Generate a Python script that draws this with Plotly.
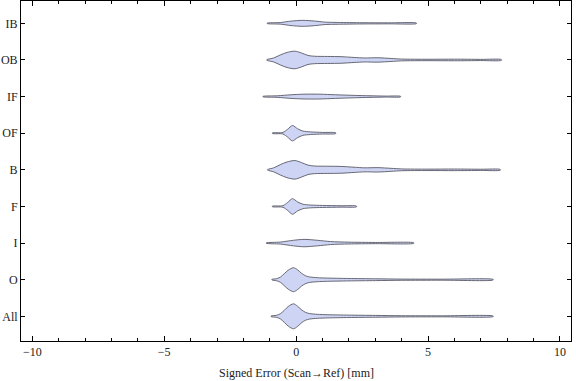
import plotly.graph_objects as go

# categories from bottom to top
categories = ["All", "O", "I", "F", "B", "OF", "IF", "OB", "IB"]

# violin profiles: x positions (mm) and half-widths (density, px-like units)
prof_x = {
    "All": [-0.95, -0.75, -0.6, -0.45, -0.3, -0.1, 0.05, 0.2, 0.35, 0.5, 0.8, 1.2, 2.0, 3.0, 4.0, 5.5, 7.47],
    "O":   [-0.92, -0.75, -0.6, -0.45, -0.3, -0.1, 0.05, 0.2, 0.35, 0.5, 0.8, 1.2, 2.0, 3.0, 4.0, 5.5, 7.47],
    "I":   [-1.13, -0.6, -0.1, 0.3, 0.8, 1.3, 2.0, 3.0, 4.46],
    "F":   [-0.9, -0.5, -0.32, -0.14, 0.05, 0.25, 0.55, 1.0, 1.7, 2.29],
    "B":   [-1.08, -0.85, -0.6, -0.35, -0.05, 0.2, 0.45, 0.7, 1.2, 1.7, 2.2, 2.6, 3.1, 3.6, 4.0, 5.0, 6.0, 7.0, 7.74],
    "OF":  [-0.9, -0.5, -0.32, -0.14, 0.05, 0.25, 0.55, 1.0, 1.5],
    "IF":  [-1.26, -0.7, -0.2, 0.3, 0.9, 1.5, 2.2, 2.8, 3.4, 3.96],
    "OB":  [-1.11, -0.85, -0.6, -0.35, -0.05, 0.2, 0.45, 0.7, 1.2, 1.7, 2.2, 2.6, 3.1, 3.6, 4.0, 5.0, 6.0, 7.0, 7.78],
    "IB":  [-1.1, -0.6, -0.2, 0.25, 0.7, 1.1, 1.6, 2.5, 3.5, 4.56],
}
prof_w = {
    "All": [0.3, 1.0, 2.5, 6.0, 9.8, 12.5, 10.2, 6.6, 4.0, 2.8, 2.0, 1.6, 1.2, 0.9, 0.6, 0.5, 0.3],
    "O":   [0.3, 1.0, 2.5, 6.0, 9.5, 12.0, 10.0, 6.5, 4.0, 2.8, 2.0, 1.6, 1.2, 0.9, 0.6, 0.5, 0.3],
    "I":   [0.2, 1.0, 2.8, 3.7, 2.8, 1.5, 0.9, 0.6, 0.3],
    "F":   [0.3, 0.8, 4.0, 7.8, 4.6, 2.3, 1.4, 1.0, 0.7, 0.4],
    "B":   [0.3, 2.0, 5.2, 7.8, 9.3, 7.3, 4.7, 3.8, 3.6, 3.4, 2.6, 2.0, 2.2, 1.5, 0.9, 0.7, 0.8, 0.6, 0.4],
    "OF":  [0.3, 0.8, 4.0, 7.7, 4.5, 2.2, 1.3, 0.8, 0.4],
    "IF":  [0.2, 0.8, 1.8, 2.4, 2.4, 1.8, 1.2, 0.8, 0.5, 0.3],
    "OB":  [0.3, 2.0, 5.0, 7.5, 8.8, 7.0, 4.5, 3.7, 3.5, 3.3, 2.5, 2.0, 2.2, 1.5, 0.9, 0.7, 0.8, 0.6, 0.4],
    "IB":  [0.2, 0.8, 2.2, 3.0, 2.3, 1.2, 0.9, 0.6, 0.5, 0.3],
}

x_ticks = [-10, -5, 0, 5, 10]
x_ticktext = ["\u221210", "\u22125", "0", "5", "10"]
x_title = "Signed Error (Scan\u2192Ref) [mm]"

PX_PER_CAT = 36.6  # scale of density units to category spacing

fig = go.Figure()
for i, cat in enumerate(categories):
    xs = prof_x[cat]
    ws = [w / PX_PER_CAT for w in prof_w[cat]]
    px_ = xs + xs[::-1]
    py_ = [i + w for w in ws] + [i - w for w in ws[::-1]]
    fig.add_trace(go.Scatter(
        x=px_ + [px_[0]], y=py_ + [py_[0]],
        mode="lines", fill="toself",
        fillcolor="#cdd4f4",
        line=dict(color="#5a5a66", width=0.9, shape="spline", smoothing=0.8),
        hoverinfo="skip", showlegend=False,
    ))

font_family = "Liberation Serif, Times New Roman, serif"
fig.update_layout(
    width=576, height=381,
    margin=dict(l=21, r=5, t=1, b=40),
    plot_bgcolor="white", paper_bgcolor="white",
    font=dict(family=font_family, size=12, color="#222"),
    showlegend=False,
    annotations=[dict(
        text=x_title, xref="paper", yref="paper", x=0.5, y=0,
        yshift=-32, xanchor="center", yanchor="middle", showarrow=False,
        font=dict(size=12, family=font_family, color="#222"),
    )],
)
fig.update_xaxes(
    range=[-10.43, 10.42], automargin=False,
    tickvals=x_ticks, ticktext=x_ticktext,
    ticks="inside", ticklen=5, tickwidth=1, tickcolor="black",
    minor=dict(dtick=1, ticks="inside", ticklen=3, tickwidth=1, tickcolor="black", showgrid=False),
    showline=True, linecolor="black", linewidth=1, mirror="allticks",
    showgrid=False, zeroline=False,
    tickfont=dict(size=12),
)
fig.update_yaxes(
    range=[-0.674, 8.61], automargin=False,
    tickvals=list(range(len(categories))), ticktext=categories,
    ticks="inside", ticklen=4, tickwidth=1, tickcolor="black",
    showline=True, linecolor="black", linewidth=1, mirror="allticks",
    showgrid=False, zeroline=False,
    tickfont=dict(size=12),
)

fig.write_html("out.html", config={"displayModeBar": False},
               post_script="document.body.style.margin='0px';")
